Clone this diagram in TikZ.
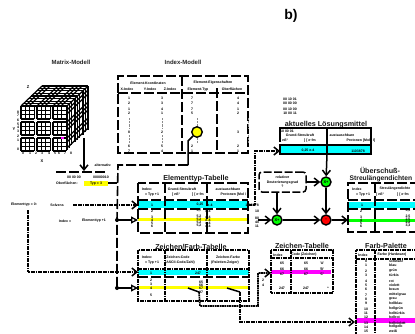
\documentclass[tikz,border=0pt]{standalone}
\usepackage{fontspec}
\setmainfont{Liberation Sans}
\usetikzlibrary{arrows.meta}
\definecolor{mycyan}{RGB}{0,255,255}
\definecolor{myyellow}{RGB}{255,255,0}
\definecolor{mymag}{RGB}{255,0,255}
\definecolor{mygreen}{RGB}{0,255,0}
\definecolor{myred}{RGB}{255,0,0}
\tikzset{
 txt/.style={inner sep=0pt,font=\fontsize{3.5}{3.7}\selectfont\bfseries},
 sm/.style={inner sep=0pt,font=\fontsize{4}{4.4}\selectfont\bfseries},
 ttl/.style={inner sep=0pt,font=\fontsize{6}{7}\selectfont\bfseries,text=black!85},
 bigttl/.style={inner sep=0pt,font=\fontsize{7.2}{8.5}\selectfont\bfseries,text=black!90},
 longd/.style={draw=black,line width=1.6pt,dash pattern=on 10pt off 3pt},
 dens/.style={draw=black,line width=1.6pt,dash pattern=on 1.8pt off 0.6pt},
 solidb/.style={draw=black,line width=1.5pt},
 hd/.style={-{Straight Barb[length=5pt,width=8pt,line width=1.5pt]}},
 opn/.style={-{Triangle[open,length=7pt,width=7pt,line width=1.3pt]}},
 op/.style={circle,draw=black,line width=1.4pt,minimum size=10pt,inner sep=0pt,font=\fontsize{4}{4}\selectfont\bfseries},
 cgrid/.style={draw=black,line width=1.25pt},
}
\begin{document}
\begin{tikzpicture}[x=1pt,y=-1pt]
\useasboundingbox (0,0) rectangle (415,333);
\clip (0,0) rectangle (415,333);
\fill[white] (0,0) rectangle (415,333);

\node[inner sep=0pt,font=\fontsize{14}{14}\selectfont\bfseries] (tb) at (291,16) {b)};
\node[ttl] (tm) at (71,62) {Matrix-Modell};
\node[ttl] (ti) at (183,62) {Index-Modell};

% cube: top and right faces
\foreach \d in {0,2.2,4.4,7.3,9.5,11.7,14.6,16.8,19} {
  \pgfmathsetmacro{\dx}{\d*1.1}
  \pgfmathsetmacro{\dy}{\d*-1.05}
  \draw[cgrid] (21+\dx,106+\dy) -- (67+\dx,106+\dy);
  \draw[cgrid] (67+\dx,106+\dy) -- (67+\dx,150+\dy);
}
\foreach \s in {0,4,8,16,20,24,32,36,40} {
  \draw[cgrid] (21+\s,106) -- (42+\s,86);
}
\foreach \s in {0,4,8,16,20,24,32,36,42} {
  \draw[cgrid] (67,106+\s) -- (88,86+\s);
}
% front blocks
\foreach \cx in {21,37,53} \foreach \ry in {106,122,138} {
  \foreach \k in {0,4.4,8.8,13.2} { \draw[cgrid] (\cx+\k,\ry) -- (\cx+\k,\ry+13); }
  \foreach \k in {0,4.3,8.6,13} { \draw[cgrid] (\cx,\ry+\k) -- (\cx+13.2,\ry+\k); }
}
\fill[mymag] (60.5,136.5) rectangle (64,139);
\node[sm] (cz) at (28,87) {Z};
\node[sm] (cy) at (14,129) {Y};
\node[sm] (cx) at (42,161) {X};
\foreach \t/\y [count=\i] in {8/112,7/115,6/120,5/124,4/127,3/131,2/136,1/140,0/149} \node[txt] (yl\i) at (18,\y) {\t};
\foreach \t/\x [count=\i] in {0/23,1/30,2/36,3/42,4/49,5/55,6/59,7/65,8/71} \node[txt] (xl\i) at (\x,153) {\t};

% Index model
\draw[longd] (118,93) -- (118,76) -- (248,76) -- (248,153) -- (118,153) -- (118,93);
\draw[longd] (182,76) -- (182,153);
\draw[longd] (217,88) -- (217,153);
\draw[longd] (118,93) -- (248,93);
\node[txt] (h1) at (148,83) {Element-Koordinaten};
\node[txt] (h2) at (213,83) {Element-Eigenschaften};
\foreach \t/\x [count=\i] in {X-Index/127,Y-Index/150,Z-Index/170,Element-Typ/198,Oberflächen/232} \node[txt] (hc\i) at (\x,89.5) {\t};
\foreach \t/\y [count=\i] in {1/98,2/103,1/109,2/113,8/132,6/146,7/151} \node[txt] (ca\i) at (129,\y) {\t};
\foreach \t/\y [count=\i] in {3/98,3/103,4/109,1/113,2/132,5/146,4/151} \node[txt] (cb\i) at (162,\y) {\t};
\foreach \t/\y [count=\i] in {7/98,7/103,7/109,5/113,2/146,1/151} \node[txt] (cc\i) at (192,\y) {\t};
\foreach \t/\y [count=\i] in {4/98,4/103,1/109,2/113,3/132,2/146,1/151} \node[txt] (cd\i) at (238,\y) {\t};
\foreach \x in {129,162,197,248} { \draw[black!45,line width=0.7pt,dash pattern=on 0.7pt off 0.7pt] (\x,118) -- (\x,128) (\x,135) -- (\x,143); }

% Yellow circle + line to "alternativ" box
\node[op,fill=myyellow,minimum size=10.5pt] (yc) at (197,132) {};
\coordinate (bj) at (188,141);
\coordinate (tc) at (188,165);
\coordinate (ta) at (118,165);
\coordinate (d1) at (117,220);
\coordinate (d2) at (117,288);
\draw[solidb] (yc) -- (bj) -- (tc);
\draw[longd] (tc) -- (ta) -- (d1) -- (d2);
\fill (d1) circle (2pt);
\fill (d2) circle (2pt);

% left block
\node[txt] (alt) at (103,165) {alternativ:};
\coordinate (cu) at (84,138);
\coordinate (cd) at (84,171);
\draw[solidb,hd] (cu) -- (cd);
\draw[longd] (56,172) -- (108,172);
\node[txt] (bits1) at (74,177) {00 00 00};
\node[txt] (bits2) at (101,177) {00000010};
\node[txt] (ofl) at (67,183.5) {Oberflächen:};
\fill[myyellow] (84,181) rectangle (108,185.5);
\node[txt] (typ) at (96,183.5) {Typ = 3};
\draw[solidb] (108,183) -- (117,183);
\node[txt] (e0) at (24,205) {Elementtyp = 0:};
\node[txt] (solv) at (57,205) {Solvens};
\node[txt] (ix) at (65,221) {Index =};
\node[txt] (ix2) at (94,221) {Elementtyp +1};
\coordinate (sv) at (73,205);
\coordinate (s0) at (28,210);
\coordinate (s1) at (28,272);

% Elementtyp table
\fill[mycyan] (138,201) rectangle (248,208);
\fill[myyellow] (138,217.5) rectangle (248,221);
\node[bigttl] (te) at (196,179) {Elementtyp-Tabelle};
\draw[longd] (138,183) rectangle (248,233);
\draw[longd] (165,183) -- (165,233) (207,183) -- (207,233);
\draw[longd] (138,200) -- (248,200) (138,209) -- (248,209);
\foreach \t/\x/\y [count=\i] in {Index:/147/189,= Typ +1/152/195,Grund-Streukraft/182/189,{[ nß²}/176/195,{] [ e·fm}/198/195,austauschbare/228/189,{Protonen [Mol / l]}/235/195,1/152/205,{0,25}/200/205,e-4/210/205,1103878/252/205,2/152/211,3/152/217,4/152/220,5/152/223,6/152/226,{3,7}/199/211,{5,2}/199/217,{5,2}/199/220,{5,2}/199/223,{5,2}/199/226,e-4/208/211,e-4/208/217,e-4/208/220,e-4/208/223,e-4/208/226,10/257/211,80/257/218,40/257/222,11/257/226} \node[txt] (et\i) at (\x,\y) {\t};

% Zeichen/Farb table
\fill[mycyan] (138,270) rectangle (249,275);
\fill[myyellow] (138,286) rectangle (249,289);
\node[bigttl] (tz) at (191,246.5) {Zeichen/Farb-Tabelle};
\draw[dens] (138,250) rectangle (249,301);
\draw[dens] (165,250) -- (165,301) (207,250) -- (207,301);
\draw[dens] (138,269) -- (249,269);
\draw[longd] (138,277) -- (249,277);
\foreach \t/\x/\y [count=\i] in {Index:/147/257,= Typ +1/152/263,Zeichen-Code/178/257,{(ASCII-Code/Zahl)}/180/263,Zeichen-Farbe/228/257,(Paletten-Zeiger)/225/263,1/151/273,247/198/273,2/151/280,3/151/284,4/151/288,5/151/295,65/201/282,66/201/285,67/201/288,97/201/292} \node[txt] (zf\i) at (\x,\y) {\t};

% Zeichen-Tabelle
\fill[mymag] (271,270) rectangle (331,273.5);
\node[bigttl] (tzt) at (302,246) {Zeichen-Tabelle};
\draw[dens] (271,250) rectangle (333,293);
\draw[dens] (291,250) -- (291,293) (271,258) -- (333,258);
\foreach \t/\x/\y [count=\i] in {Index/278/255,Code (Zeichen)/304/255,65/282/263,66/282/269,67/282/274,247/282/288,65/306/263,66/306/269,67/306/274,247/306/288,'A'/322/263,'B'/322/269,'C'/322/274,*/328/288,2/263/280,4/263/285} \node[txt] (zt\i) at (\x,\y) {\t};

% Farb-Palette
\fill[mymag] (356,318) rectangle (415,322.5);
\node[bigttl] (tfp) at (386,246) {Farb-Palette};
\draw[dens] (356,360) -- (356,250) -- (420,250);
\draw[dens] (375,250) -- (375,360) (356,259) -- (420,259);
\node[txt] (fh1) at (363,255) {Index};
\node[txt] (fh2) at (392,255) {Farbe (Hardware)};
\foreach \n/\c/\y in {0/schwarz/261,1/blau/265,2/grün/271,3/türkis/275,4/rot/281,5/violett/285,6/braun/289,7/mittelgrau/295,8/grau/299,9/hellblau/303,10/hellgrün/309,11/helltürkis/313,12/hellrot/317,13/hellviolett/323,14/hellgelb/327,15/weiß/331} {
  \node[txt] (fn\n) at (366,\y) {\n};
  \node[txt,anchor=west] (fc\n) at (389,\y) {\c};
}

% Loesungsmittel
\foreach \t/\y [count=\i] in {00 10 01/99,00 00 00/103,00 10 00/109,10 00 11/113} \node[txt] (bt\i) at (290,\y) {\t};
\fill[mycyan] (280,145) rectangle (371,154);
\node[bigttl] (tl) at (326,124.5) {aktuelles Lösungsmittel};
\draw[solidb] (280,142) -- (280,128) -- (371,128) -- (371,154) -- (280,154) -- (280,145) -- (371,145);
\coordinate (lb) at (327,154);
\draw[solidb] (327,129) -- (327,154);
\foreach \t/\x/\y [count=\i] in {10 00 01/287/131,Grund-Streukraft/300/135,{[ nß²}/284/141,{] [ e·fm}/310/141,austauschbare/342/135,{Protonen [Mol / l]}/361/141,{0,25 e-4}/308/151,1103878/358/151} \node[txt] (lm\i) at (\x,\y) {\t};

% relativer box
\node[draw=black,line width=1.5pt,dash pattern=on 8pt off 2.5pt,rounded corners=3pt,minimum width=47pt,minimum height=20pt,inner sep=0pt,align=center,font=\fontsize{3.5}{4.6}\selectfont\bfseries] (rel) at (282.5,182) {relativer\\Deuterierungsgrad\\?};

% ops
\node[op,fill=mygreen] (g1) at (326,182) {X+};
\node[op,fill=mygreen] (g2) at (277,220) {X+};
\node[op,fill=myred] (rd) at (326,220) {--};

% Ueberschuss table
\fill[mycyan] (348,202) rectangle (415,208);
\fill[mygreen] (348,218.5) rectangle (415,222);
\node[bigttl] (tu1) at (380,170) {Überschuß-};
\node[bigttl,anchor=west,font=\fontsize{6.7}{8}\selectfont\bfseries] (tu2) at (349.5,178.5) {Streulängendichten};
\draw[longd] (420,183) -- (348,183) -- (348,232) -- (420,232);
\draw[longd] (375,183) -- (375,232) (348,200) -- (420,200) (348,209) -- (420,209);
\foreach \t/\x/\y [count=\i] in {Index/357/189,= Typ +1/363/195,Streulängendichte/395/189,{[ nß²}/380/195,{] [ e·fm}/403/195,1/362/205,2/361/211,3/361/217,4/361/220,5/361/223,6/361/226,{3,5}/408/211,{2,5}/408/217,{2,5}/408/220,{2,2}/408/223,{3,3}/408/226} \node[txt] (ue\i) at (\x,\y) {\t};

% connectors
\draw[solidb,hd] (lb) -- (g1);
\draw[solidb,hd] (g1) -- (rd);
\draw[solidb,hd] (rel.east) -- (g1);
\draw[solidb,hd] (rel.south -| g2) -- (g2);
\draw[solidb,hd] (g2) -- (rd);
\coordinate (u0) at (348,220);
\draw[solidb,hd] (rd) -- (u0);
\coordinate (e1) at (258,220);
\draw[solidb,hd] (e1) -- (g2);

\coordinate (c1) at (248,205);
\coordinate (c2) at (255,205);
\coordinate (c3) at (255,151);
\coordinate (c4) at (280,151);
\draw[dens,hd] (c1) -- (c2) -- (c3) -- (c4);

\coordinate (ea) at (138,205);
\draw[dens,hd] (sv) -- (ea);
\coordinate (zb) at (138,272);
\draw[dens,hd] (s0) -- (s1) -- (zb);
\coordinate (eb) at (138,220);
\coordinate (zc) at (138,288);
\draw[solidb,opn] (d1) -- (eb);
\draw[solidb,opn] (d2) -- (zc);

\coordinate (a0) at (188,288);
\coordinate (a1) at (199,292);
\coordinate (a2) at (200,306);
\coordinate (a3) at (258,306);
\coordinate (a4) at (258,273);
\coordinate (a5) at (271,273);
\draw[solidb] (a0) -- (a1);
\draw[dens,hd] (a1) -- (a2) -- (a3) -- (a4) -- (a5);
\coordinate (b0) at (227,288);
\coordinate (b1) at (240,292);
\coordinate (b2) at (240,322);
\coordinate (b3) at (355,322);
\draw[solidb] (b0) -- (b1);
\draw[dens,hd] (b1) -- (b2) -- (b3);
\end{tikzpicture}
\end{document}
